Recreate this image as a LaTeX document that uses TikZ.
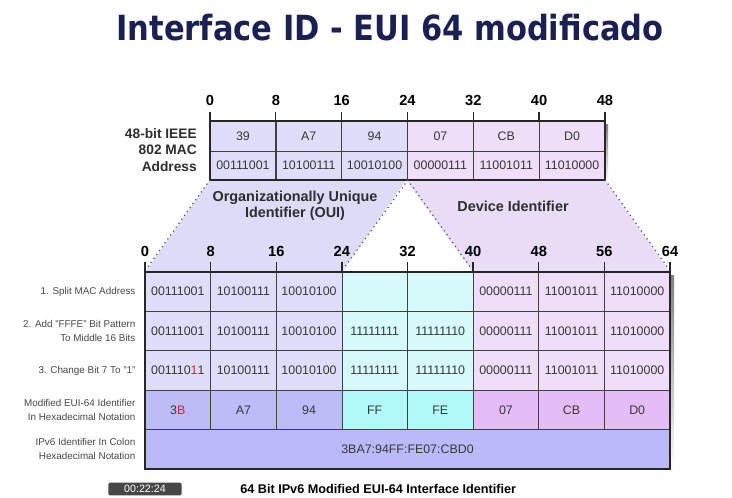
\documentclass[tikz,border=0pt]{standalone}
\usepackage{fontspec}
\setmainfont{Liberation Sans}
\newfontfamily\titlefont[FakeStretch=0.88]{DejaVu Sans}
\usetikzlibrary{positioning}

\definecolor{ouiblue}{RGB}{222,222,250}
\definecolor{ffcyan}{RGB}{214,250,250}
\definecolor{devpink}{RGB}{238,222,248}
\definecolor{ouidark}{RGB}{188,188,246}
\definecolor{ffdark}{RGB}{178,250,250}
\definecolor{devdark}{RGB}{228,188,246}
\definecolor{ipvfill}{RGB}{186,186,248}
\definecolor{trapblue}{RGB}{220,220,246}
\definecolor{trappink}{RGB}{232,220,246}
\definecolor{titlenavy}{RGB}{26,32,84}
\definecolor{bitred}{RGB}{230,30,40}
\definecolor{shade}{RGB}{236,234,220}

\tikzset{
  cell/.style={draw=black!75, line width=0.5pt, inner sep=0pt, text=black!78,
    minimum height=29.55pt, font=\fontsize{9.3}{10}\selectfont},
  topcell/.style={cell, minimum width=49.37pt, minimum height=22pt},
  botcell/.style={cell, minimum width=49.22pt},
  frame/.style={draw=black!85, line width=1.3pt},
  tick/.style={black!85, line width=1pt},
  bitnum/.style={font=\fontsize{11}{12}\selectfont\bfseries, inner sep=0.75pt},
  dotline/.style={black!65, line width=1.3pt, line cap=round, dash pattern=on 0pt off 3.6pt},
  rowlabel/.style={anchor=east, align=right, text=black!72, inner sep=0.75pt,
    font=\fontsize{7.4}{10.5}\selectfont},
  headlabel/.style={align=center, text=black!82, inner sep=0.75pt,
    font=\fontsize{10.8}{12}\selectfont\bfseries}
}

\begin{document}
\begin{tikzpicture}[x=0.75pt,y=0.75pt,yscale=-1,xscale=1]
\useasboundingbox (0,0) rectangle (732,497);
\fill[white] (0,0) rectangle (732,497);

% Title
\node[text=titlenavy, font=\titlefont\fontsize{26}{30}\selectfont\bfseries] (title) at (390,28) {Interface ID - EUI 64 modificado};

%Shape: shadows
\fill[shade] (213,124) rectangle (608,183);
\fill[shade] (148,275) rectangle (674,473);

%Shape: OUI and device trapezoids
\fill[trapblue] (210,180) -- (406,180) -- (342,272) -- (145,272) -- cycle;
\fill[trappink] (406,180) -- (605,180) -- (670,272) -- (473,272) -- cycle;

% 48-bit MAC table
\foreach \hx/\bits [count=\i] in {39/00111001, A7/10100111, 94/10010100, 07/00000111, CB/11001011, D0/11010000} {
  \ifnum\i<4 \def\cf{ouiblue}\else\def\cf{devpink}\fi
  \node[topcell, fill=\cf, minimum height=22.5pt] (mh\i) at ({210+65.83*(\i-0.5)},136) {\hx};
  \node[topcell, fill=\cf, minimum height=21.4pt] (mb\i) at ({210+65.83*(\i-0.5)},165.6) {\bits};
}
\draw[frame] (mh1.north west) rectangle (mb6.south east);

% top bit numbers
\foreach \k in {0,...,6} {
  \pgfmathtruncatemacro\nb{8*\k}
  \draw[tick] ({210+65.83*\k},112) -- ({210+65.83*\k},121);
  \node[bitnum] (tn\k) at ({210+65.83*\k},100) {\nb};
}

% Text Node
\node[anchor=east, align=right, text=black!82, inner sep=0.75pt,
  font=\fontsize{10.3}{12.2}\selectfont\bfseries] (maclabel) at (198,150) {48-bit IEEE\\802 MAC\\Address};

%Straight Lines: dotted edges
\draw[dotline] (mb1.south west) -- (147,268);
\draw[dotline] (mb3.south east) -- (344,268);
\draw[dotline] (mb3.south east) -- (471,268);
\draw[dotline] (mb6.south east) -- (668,268);

% Text Node
\node[headlabel] (ouilabel) at (295,206) {Organizationally Unique\\Identifier (OUI)};
\node[headlabel] (devlabel) at (513,206) {Device Identifier};

% 64-bit table rows
\foreach \v [count=\c] in {00111001,10100111,10010100,{},{},00000111,11001011,11010000} {
  \ifnum\c<4 \def\cf{ouiblue}\else\ifnum\c<6 \def\cf{ffcyan}\else\def\cf{devpink}\fi\fi
  \node[botcell, fill=\cf] (ra\c) at ({145+65.625*(\c-0.5)},291.7) {\v};
}
\foreach \v [count=\c] in {00111001,10100111,10010100,11111111,11111110,00000111,11001011,11010000} {
  \ifnum\c<4 \def\cf{ouiblue}\else\ifnum\c<6 \def\cf{ffcyan}\else\def\cf{devpink}\fi\fi
  \node[botcell, fill=\cf] (rb\c) at ({145+65.625*(\c-0.5)},331.1) {\v};
}
\foreach \v [count=\c] in {001110\textcolor{bitred}{1}1,10100111,10010100,11111111,11111110,00000111,11001011,11010000} {
  \ifnum\c<4 \def\cf{ouiblue}\else\ifnum\c<6 \def\cf{ffcyan}\else\def\cf{devpink}\fi\fi
  \node[botcell, fill=\cf] (rc\c) at ({145+65.625*(\c-0.5)},370.5) {\v};
}
\foreach \v [count=\c] in {3\textcolor{bitred}{B},A7,94,FF,FE,07,CB,D0} {
  \ifnum\c<4 \def\cf{ouidark}\else\ifnum\c<6 \def\cf{ffdark}\else\def\cf{devdark}\fi\fi
  \node[botcell, fill=\cf] (rd\c) at ({145+65.625*(\c-0.5)},409.9) {\v};
}
\node[cell, fill=ipvfill, minimum width=393.75pt] (ipv6) at (407.5,449.3) {3BA7:94FF:FE07:CBD0};
\draw[frame] (ra1.north west) rectangle (ipv6.south east);

% bottom bit numbers
\foreach \k in {0,...,8} {
  \pgfmathtruncatemacro\nb{8*\k}
  \draw[tick] ({145+65.625*\k},262) -- ({145+65.625*\k},272);
  \node[bitnum] (bn\k) at ({145+65.625*\k},251) {\nb};
}

% Text Node: row labels
\node[rowlabel] (stepa) at (ra1.west) [xshift=-6pt] {1. Split MAC Address};
\node[rowlabel] (stepb) at (rb1.west) [xshift=-6pt] {2. Add "FFFE" Bit Pattern\\To Middle 16 Bits};
\node[rowlabel] (stepc) at (rc1.west) [xshift=-6pt] {3. Change Bit 7 To "1"};
\node[rowlabel] (stepd) at (rd1.west) [xshift=-6pt] {Modified EUI-64 Identifier\\In Hexadecimal Notation};
\node[rowlabel] (stepe) at (ipv6.west) [xshift=-6pt] {IPv6 Identifier In Colon\\Hexadecimal Notation};

% caption and video time stamp
\node[anchor=west, inner sep=0pt, font=\fontsize{9.5}{11}\selectfont\bfseries] (caption) at (240,489) {64 Bit IPv6 Modified EUI-64 Interface Identifier};
\node[fill=black!72, rounded corners=1.5pt, text=white, inner sep=2pt, minimum width=55pt,
  font=\fontsize{8}{9}\selectfont] (clock) at (145,489) {00:22:24};

\end{tikzpicture}
\end{document}
